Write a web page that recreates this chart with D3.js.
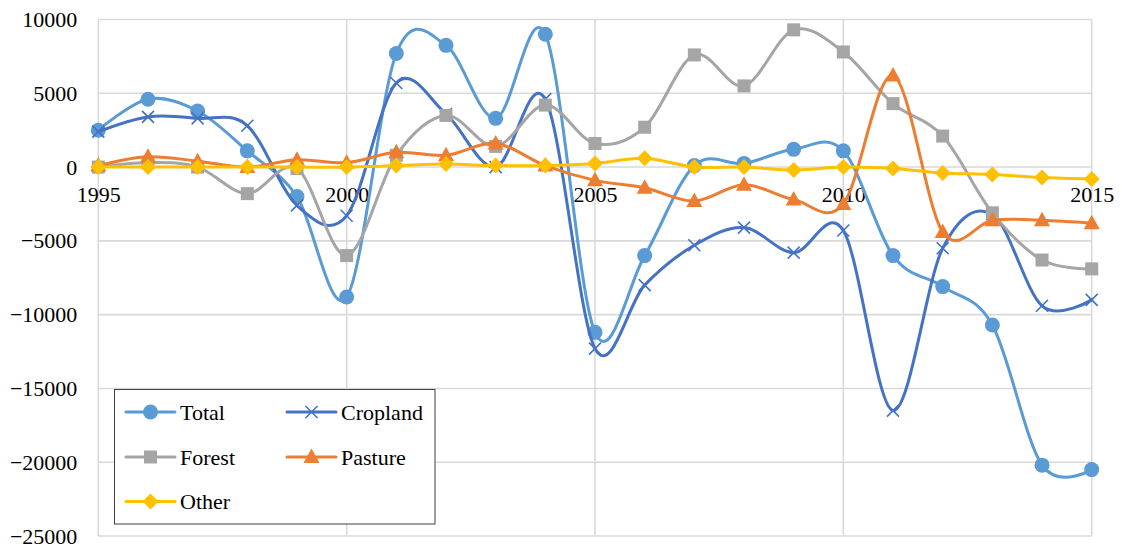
<!DOCTYPE html>
<html>
<head>
<meta charset="utf-8">
<script src="https://cdn.jsdelivr.net/npm/d3@7/dist/d3.min.js"></script>
<style>
  html, body { margin: 0; padding: 0; background: #fff; }
  svg { display: block; }
  svg text { font-family: "Liberation Serif", "Times New Roman", serif !important; font-size: 22px !important; fill: #000 !important; }
</style>
</head>
<body>
<svg id="chart" width="1122" height="548"></svg>
<script>
// Annual change in land use area, 1995–2015
const years = d3.range(1995, 2016);
const total    = [2500, 4600, 3800, 1100, -2000, -8800, 7700, 8250, 3300, 9000, -11200, -6000, 100, 250, 1200, 1100, -6000, -8100, -10700, -20200, -20500];
const cropland = [2400, 3400, 3300, 2800, -2600, -3300, 5700, 3600, 0, 4600, -12300, -8000, -5300, -4100, -5800, -4300, -16500, -5500, -3200, -9400, -9000];
const forest   = [0, 300, 0, -1800, -100, -6000, 800, 3500, 1400, 4200, 1600, 2700, 7600, 5500, 9300, 7800, 4300, 2100, -3100, -6300, -6900];
const pasture  = [100, 700, 400, 0, 500, 300, 1000, 800, 1600, 100, -900, -1400, -2300, -1200, -2200, -2500, 6200, -4400, -3600, -3600, -3800];
const other    = [0, 0, 0, 0, 0, 0, 100, 200, 100, 100, 250, 600, 0, 0, -200, 0, -100, -400, -500, -700, -800];
const yTicks = [10000, 5000, 0, -5000, -10000, -15000, -20000, -25000];
const xTicks = [1995, 2000, 2005, 2010, 2015];

const seriesList = [
  { name: "Total",    values: total,    color: "#5b9bd5", marker: "circle" },
  { name: "Cropland", values: cropland, color: "#4472c4", marker: "cross" },
  { name: "Forest",   values: forest,   color: "#a5a5a5", marker: "square" },
  { name: "Pasture",  values: pasture,  color: "#ed7d31", marker: "triangle" },
  { name: "Other",    values: other,    color: "#ffc000", marker: "diamond" }
];

const svg = d3.select("#chart");
const x = d3.scaleLinear().domain([1995, 2015]).range([98.3, 1091.7]);
const y = d3.scaleLinear().domain([-25000, 10000]).range([536, 19.5]);

// Gridlines
const grid = svg.append("g").attr("stroke", "#d9d9d9").attr("stroke-width", 1.6);
grid.selectAll("line.h").data(yTicks).join("line")
  .attr("x1", x.range()[0]).attr("x2", x.range()[1])
  .attr("y1", d => y(d)).attr("y2", d => y(d));
grid.selectAll("line.v").data(xTicks).join("line")
  .attr("x1", d => x(d)).attr("x2", d => x(d))
  .attr("y1", y.range()[1]).attr("y2", y.range()[0]);

// Y axis labels
const yAxis = svg.append("g")
  .attr("transform", `translate(${x.range()[0]},0)`)
  .call(d3.axisLeft(y).tickValues(yTicks).tickFormat(d3.format("d")).tickSize(0).tickPadding(21))
  .attr("font-family", null).attr("font-size", null);
yAxis.select(".domain").remove();

// X axis labels along the zero line
const xAxis = svg.append("g")
  .attr("transform", `translate(0,${y(0)})`)
  .call(d3.axisBottom(x).tickValues(xTicks).tickFormat(d3.format("d")).tickSize(0).tickPadding(19))
  .attr("font-family", null).attr("font-size", null);
xAxis.select(".domain").remove();

// Marker shapes
function drawMarker(g, type, color) {
  if (type === "circle") {
    g.append("circle").attr("r", 7.5).attr("fill", color);
  } else if (type === "square") {
    g.append("rect").attr("x", -6.5).attr("y", -6.5).attr("width", 13).attr("height", 13).attr("fill", color);
  } else if (type === "triangle") {
    g.append("path").attr("d", "M0,-8.5L8,6L-8,6Z").attr("fill", color);
  } else if (type === "diamond") {
    g.append("path").attr("d", "M0,-8L8,0L0,8L-8,0Z").attr("fill", color);
  } else if (type === "cross") {
    g.append("path").attr("d", "M-6,-6L6,6M-6,6L6,-6").attr("stroke", color).attr("stroke-width", 1.6).attr("fill", "none");
  }
}

const line = d3.line()
  .x((d, i) => x(years[i]))
  .y(d => y(d))
  .curve(d3.curveCardinal.tension(0));

seriesList.forEach(s => {
  const g = svg.append("g");
  g.append("path")
    .attr("d", line(s.values))
    .attr("fill", "none")
    .attr("stroke", s.color)
    .attr("stroke-width", 3)
    .attr("stroke-linejoin", "round")
    .attr("stroke-linecap", "round");
  s.values.forEach((v, i) => {
    const m = g.append("g").attr("transform", `translate(${x(years[i])},${y(v)})`);
    drawMarker(m, s.marker, s.color);
  });
});

// Legend
const legend = svg.append("g");
legend.append("rect")
  .attr("x", 114.5).attr("y", 389.5).attr("width", 320.5).attr("height", 134.5)
  .attr("fill", "#fff").attr("stroke", "#404040").attr("stroke-width", 1);
const legendPos = [
  { cx: 126, cy: 412 }, { cx: 287, cy: 412 },
  { cx: 126, cy: 457 }, { cx: 287, cy: 457 },
  { cx: 126, cy: 501.5 }
];
seriesList.forEach((s, i) => {
  const p = legendPos[i];
  const item = legend.append("g").attr("transform", `translate(${p.cx},${p.cy})`);
  item.append("line").attr("x1", 0).attr("x2", 49).attr("y1", 0).attr("y2", 0)
    .attr("stroke", s.color).attr("stroke-width", 3).attr("stroke-linecap", "round");
  const m = item.append("g").attr("transform", "translate(24.5,0)");
  drawMarker(m, s.marker, s.color);
  item.append("text").attr("x", 54).attr("y", 0).attr("dy", "0.35em").text(s.name);
});
</script>
</body>
</html>
